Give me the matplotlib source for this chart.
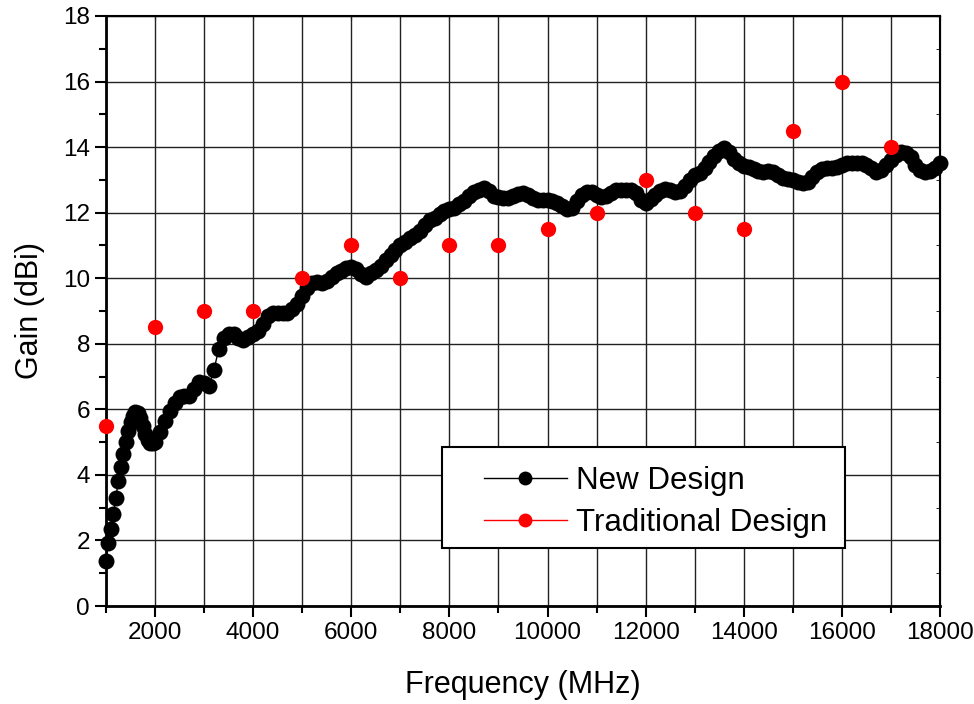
import numpy as np
import matplotlib
matplotlib.use("Agg")
import matplotlib.pyplot as plt
from matplotlib.lines import Line2D
from matplotlib.patches import Rectangle
from matplotlib.ticker import MultipleLocator

plt.rcParams['font.family'] = ['Liberation Sans', 'DejaVu Sans']

# new design: simulated gain, dense sweep (50 MHz steps up to 2 GHz, then 100 MHz)
freq_new = np.concatenate([np.arange(1000, 2000, 50), np.arange(2000, 18001, 100)])
gain_new = [
    1.37, 1.93, 2.35, 2.80, 3.30, 3.80, 4.25, 4.65, 5.00, 5.35,
    5.60, 5.80, 5.92, 5.90, 5.75, 5.50, 5.25, 5.05, 4.97, 4.96,
    # 2000 ->
    5.00, 5.30, 5.65, 5.95, 6.20, 6.38, 6.42, 6.42, 6.62, 6.83,
    6.80, 6.70, 7.20, 7.85, 8.18, 8.30, 8.30, 8.18, 8.10, 8.20,
    8.30, 8.38, 8.60, 8.85, 8.93, 8.95, 8.93, 8.95, 9.05, 9.20,
    9.45, 9.70, 9.85, 9.88, 9.84, 9.90, 10.05, 10.15, 10.22, 10.30,
    10.35, 10.28, 10.12, 10.05, 10.15, 10.25, 10.38, 10.55, 10.72, 10.85,
    11.00, 11.10, 11.22, 11.32, 11.45, 11.62, 11.78, 11.85, 11.95, 12.05,
    12.12, 12.15, 12.25, 12.36, 12.50, 12.62, 12.70, 12.74, 12.65, 12.52,
    12.48, 12.45, 12.45, 12.50, 12.58, 12.60, 12.55, 12.45, 12.40, 12.38,
    12.38, 12.37, 12.30, 12.20, 12.12, 12.15, 12.35, 12.55, 12.63, 12.62,
    12.55, 12.48, 12.50, 12.60, 12.68, 12.70, 12.68, 12.68, 12.60, 12.40,
    12.30, 12.42, 12.55, 12.65, 12.73, 12.70, 12.62, 12.65, 12.80, 13.00,
    13.15, 13.22, 13.35, 13.55, 13.72, 13.88, 13.97, 13.85, 13.65, 13.50,
    13.42, 13.38, 13.33, 13.28, 13.25, 13.26, 13.25, 13.15, 13.05, 13.03,
    13.00, 12.95, 12.90, 12.92, 13.10, 13.25, 13.32, 13.35, 13.35, 13.38,
    13.45, 13.50, 13.50, 13.50, 13.50, 13.45, 13.35, 13.25, 13.30, 13.45,
    13.60, 13.75, 13.85, 13.82, 13.70, 13.45, 13.30, 13.25, 13.28, 13.35,
    13.50,
]

# traditional design: measured at 1 GHz steps
freq_trad = [1000, 2000, 3000, 4000, 5000, 6000, 7000, 8000, 9000,
             10000, 11000, 12000, 13000, 14000, 15000, 16000, 17000]
gain_trad = [5.5, 8.5, 9, 9, 10, 11, 10, 11, 11,
             11.5, 12, 13, 12, 11.5, 14.5, 16, 14]

fig = plt.figure(figsize=(9.74, 7.04), dpi=100)
ax = fig.add_axes([0.1088, 0.1392, 0.8563, 0.8381])

ax.plot(freq_new, gain_new, color='black', lw=1, marker='o', ms=11.5,
        markeredgewidth=0, zorder=3, clip_on=False)
ax.plot(freq_trad, gain_trad, ls='none', color='red', marker='o', ms=11,
        markeredgewidth=0, zorder=3, clip_on=False)

ax.set_xlim(1000, 18000)
ax.set_ylim(0, 18)
ax.xaxis.set_major_locator(MultipleLocator(2000))
ax.xaxis.set_minor_locator(MultipleLocator(1000))
ax.yaxis.set_major_locator(MultipleLocator(2))
ax.yaxis.set_minor_locator(MultipleLocator(1))
ax.grid(True, which='both', axis='x', color='#222222', lw=1)
ax.grid(True, which='major', axis='y', color='#222222', lw=1)
ax.set_axisbelow(True)

ax.tick_params(which='both', direction='out', labelsize=17.5, width=1.5,
               top=False, right=False)
ax.tick_params(which='major', length=8)
ax.tick_params(which='minor', length=5)
for s in ax.spines.values():
    s.set_linewidth(1.5)
ax.spines['left'].set_linewidth(2)
ax.spines['bottom'].set_linewidth(2)

# small inward ticks on the right and top frame
ax2 = ax.secondary_yaxis('right')
ax2.yaxis.set_major_locator(MultipleLocator(2))
ax2.yaxis.set_minor_locator(MultipleLocator(1))
ax2.tick_params(which='both', direction='in', length=3, labelright=False)
ax3 = ax.secondary_xaxis('top')
ax3.xaxis.set_major_locator(MultipleLocator(2000))
ax3.xaxis.set_minor_locator(MultipleLocator(1000))
ax3.tick_params(which='both', direction='in', length=3, labeltop=False)

ax.set_xlabel('Frequency (MHz)', fontsize=22, labelpad=19)
ax.set_ylabel('Gain (dBi)', fontsize=22, labelpad=13)

# legend box
ax.add_patch(Rectangle((0.403, 0.098), 0.483, 0.171, transform=ax.transAxes,
                       facecolor='white', edgecolor='black', lw=1.5, zorder=4))
handles = [
    Line2D([], [], color='black', lw=1, marker='o', ms=10, markeredgewidth=0),
    Line2D([], [], color='red', lw=1, marker='o', ms=10, markeredgewidth=0),
]
ax.legend(handles, ['New Design', 'Traditional Design'], loc='upper left',
          bbox_to_anchor=(0.453, 0.238), frameon=False, fontsize=22.5,
          borderpad=0, borderaxespad=0, handlelength=2.65, handletextpad=0.3,
          labelspacing=0.4).set_zorder(5)

fig.savefig('out.png', dpi=100)
